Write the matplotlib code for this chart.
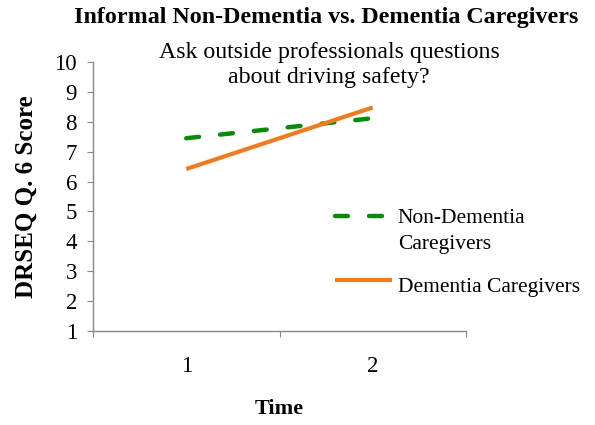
import matplotlib
matplotlib.use("Agg")
import matplotlib.pyplot as plt

plt.rcParams['font.family'] = 'serif'
plt.rcParams['font.serif'] = ['Liberation Serif', 'DejaVu Serif']
SERIF = ['Liberation Serif', 'DejaVu Serif']

times = [1, 2]
non_dementia = [7.45, 8.12]
dementia = [6.42, 8.48]
labels = ["Non-Dementia\nCaregivers", "Dementia Caregivers"]
yticks = list(range(1, 11))

fig = plt.figure(figsize=(5.95, 4.25), dpi=100)
ax = fig.add_axes([93/595, 1 - 331/425, (466-93)/595, (331-62)/425])

ax.plot(times, non_dementia, color='#0A8A0A', lw=3.2, dashes=(2.9, 4.75),
        solid_capstyle='round', dash_capstyle='round', label=labels[0])
ax.plot(times, dementia, color='#F07B1F', lw=3.0, solid_capstyle='butt', label=labels[1])

ax.set_xlim(0.5, 2.5)
ax.set_ylim(1, 10)
ax.set_yticks(yticks)
ax.set_yticklabels([str(v) for v in yticks], fontsize=16.5, family=SERIF)
ax.set_xticks([0.5, 1.5, 2.5])
ax.set_xticklabels([])
ax.set_xticks(times, minor=True)
ax.set_xticklabels([str(t) for t in times], minor=True, fontsize=16.5, family=SERIF)
ax.tick_params(axis='x', which='minor', length=0, pad=18)
ax.tick_params(axis='x', which='major', length=4.5, color='#888888', direction='out')
ax.tick_params(axis='y', length=4.5, color='#888888', direction='out', pad=7)

for s in ['top', 'right']:
    ax.spines[s].set_visible(False)
for s in ['left', 'bottom']:
    ax.spines[s].set_color('#888888')
    ax.spines[s].set_linewidth(1.0)

ax.set_xlabel("Time", fontsize=16, fontweight='bold', family=SERIF, labelpad=16)
ax.set_ylabel("DRSEQ Q. 6 Score", fontsize=18, fontweight='bold', family=SERIF, labelpad=12)

fig.text(0.549, 1 - 18/425, "Informal Non-Dementia vs. Dementia Caregivers",
         fontsize=17.3, fontweight='bold', family=SERIF, ha='center', va='center')
fig.text(0.553, 1 - 65/425, "Ask outside professionals questions\nabout driving safety?",
         fontsize=17.2, family=SERIF, ha='center', va='center', linespacing=1.3)

leg = ax.legend(loc='upper left', bbox_to_anchor=(326/595, 1 - 200/425),
                bbox_transform=fig.transFigure, frameon=False,
                prop={'family': SERIF, 'size': 15.5},
                handlelength=2.65, handletextpad=0.28, labelspacing=1.05,
                borderaxespad=0)
for t in leg.get_texts():
    t.set_linespacing(1.55)
# align the first handle with the first line of its two-line label
h0 = leg.legend_handles[0]
h0.set_ydata([y + 10.5 for y in h0.get_ydata()])
h1 = leg.legend_handles[1]
h1.set_ydata([y + 3 for y in h1.get_ydata()])

fig.savefig("out.png", dpi=100)
